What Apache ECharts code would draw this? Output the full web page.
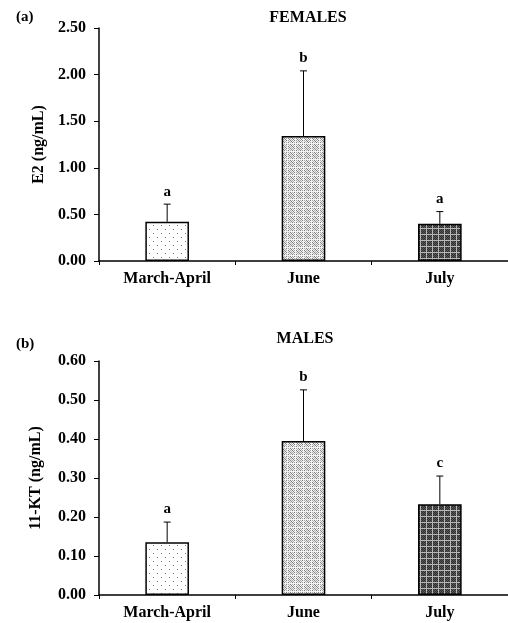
<!DOCTYPE html>
<html>
<head>
<meta charset="utf-8">
<script src="https://cdn.jsdelivr.net/npm/echarts@6/dist/echarts.min.js"></script>
<style>html,body{margin:0;padding:0;background:#fff}#c{width:508px;height:623px}</style>
</head>
<body>
<div id="c"></div>
<script>
// ---- data ----
const categories = ['March-April', 'June', 'July'];
const femaleMean = [0.42, 1.34, 0.40];
const femaleErrTop = [0.61, 2.04, 0.53];
const femaleLetters = ['a', 'b', 'a'];
const maleMean = [0.135, 0.395, 0.233];
const maleErrTop = [0.187, 0.526, 0.305];
const maleLetters = ['a', 'b', 'c'];
const femaleTicks = { min: 0, max: 2.5, interval: 0.5 };
const maleTicks = { min: 0, max: 0.6, interval: 0.1 };

// ---- patterns ----
function makePattern(kind) {
  const c = document.createElement('canvas');
  const ctx = c.getContext('2d');
  if (kind === 0) {
    c.width = 8; c.height = 8;
    ctx.fillStyle = '#fff'; ctx.fillRect(0, 0, 8, 8);
    ctx.fillStyle = '#7a7a7a';
    ctx.fillRect(1, 1, 1, 1); ctx.fillRect(5, 5, 1, 1);
  } else if (kind === 1) {
    c.width = 8; c.height = 8;
    ctx.fillStyle = '#f2f2f2'; ctx.fillRect(0, 0, 8, 8);
    for (let y = 0; y < 8; y++) for (let x = 0; x < 8; x++) {
      if ((x + y) % 2 === 0 && x !== 7 && y !== 7) {
        ctx.fillStyle = ((x >> 1) + (y >> 1)) % 2 ? '#7e7e7e' : '#acacac';
        ctx.fillRect(x, y, 1, 1);
      }
    }
  } else {
    c.width = 6; c.height = 6;
    ctx.fillStyle = '#5a5a5a'; ctx.fillRect(0, 0, 6, 6);
    for (let y = 0; y < 6; y++) for (let x = 0; x < 6; x++) {
      if ((x + y) % 2 === 0) { ctx.fillStyle = '#2e2e2e'; ctx.fillRect(x, y, 1, 1); }
    }
    ctx.fillStyle = '#b8b8b8';
    ctx.fillRect(0, 0, 6, 1); ctx.fillRect(0, 0, 1, 6);
  }
  return { image: c, repeat: 'repeat' };
}
const patterns = [makePattern(0), makePattern(1), makePattern(2)];

const FONT = '"Liberation Serif", "Times New Roman", serif';
const chart = echarts.init(document.getElementById('c'), null, { renderer: 'canvas' });

function xAxis(gi) {
  return {
    type: 'category', gridIndex: gi, data: categories,
    axisLine: { lineStyle: { color: '#000', width: 1.5 } },
    axisTick: { show: true, length: 4, lineStyle: { color: '#000', width: 1 } },
    axisLabel: { color: '#000', fontFamily: FONT, fontWeight: 'bold', fontSize: 16, margin: 10 },
    splitLine: { show: false }
  };
}
function yAxis(gi, t, name, gap) {
  return {
    type: 'value', gridIndex: gi, min: t.min, max: t.max, interval: t.interval,
    name: name, nameLocation: 'middle', nameRotate: 90, nameGap: gap,
    nameTextStyle: { color: '#000', fontFamily: FONT, fontWeight: 'bold', fontSize: 16 },
    axisLine: { show: true, lineStyle: { color: '#000', width: 1.5 } },
    axisTick: { show: true, inside: false, length: 5, lineStyle: { color: '#000', width: 1 } },
    axisLabel: { color: '#000', fontFamily: FONT, fontWeight: 'bold', fontSize: 16, margin: 13,
      formatter: v => v.toFixed(2) },
    splitLine: { show: false }
  };
}
function bars(gi, means) {
  return {
    type: 'bar', xAxisIndex: gi, yAxisIndex: gi, barWidth: '32%',
    data: means.map((v, i) => ({ value: v, itemStyle: { color: patterns[i] } })),
    itemStyle: { borderColor: '#000', borderWidth: 1.5 },
    silent: true, animation: false
  };
}
function errs(gi, means, tops, letters) {
  return {
    type: 'custom', xAxisIndex: gi, yAxisIndex: gi, silent: true, animation: false, z: 5,
    data: means.map((m, i) => [i, m, tops[i]]),
    renderItem: function (params, api) {
      const i = api.value(0);
      const p0 = api.coord([i, api.value(1)]);
      const p1 = api.coord([i, api.value(2)]);
      return {
        type: 'group',
        children: [
          { type: 'line', shape: { x1: p0[0], y1: p0[1], x2: p1[0], y2: p1[1] }, style: { stroke: '#000', lineWidth: 1 } },
          { type: 'line', shape: { x1: p1[0] - 3.5, y1: p1[1], x2: p1[0] + 3.5, y2: p1[1] }, style: { stroke: '#000', lineWidth: 1 } },
          { type: 'text', x: p1[0], y: p1[1] - 5, style: { text: letters[i], fill: '#000', font: 'bold 15px ' + FONT, textAlign: 'center', textVerticalAlign: 'bottom' } }
        ]
      };
    }
  };
}

chart.setOption({
  animation: false,
  backgroundColor: '#fff',
  grid: [
    { left: 99, top: 28, width: 414, height: 233 },
    { left: 99, top: 361, width: 414, height: 234 }
  ],
  xAxis: [xAxis(0), xAxis(1)],
  yAxis: [yAxis(0, femaleTicks, 'E2 (ng/mL)', 48), yAxis(1, maleTicks, '11-KT (ng/mL)', 55)],
  series: [
    bars(0, femaleMean), errs(0, femaleMean, femaleErrTop, femaleLetters),
    bars(1, maleMean), errs(1, maleMean, maleErrTop, maleLetters)
  ],
  graphic: [
    { type: 'text', x: 16, y: 17, style: { text: '(a)', fill: '#000', font: 'bold 15px ' + FONT, textVerticalAlign: 'middle' } },
    { type: 'text', x: 308, y: 18, style: { text: 'FEMALES', fill: '#000', font: 'bold 16px ' + FONT, textAlign: 'center', textVerticalAlign: 'middle' } },
    { type: 'text', x: 16, y: 344, style: { text: '(b)', fill: '#000', font: 'bold 15px ' + FONT, textVerticalAlign: 'middle' } },
    { type: 'text', x: 305, y: 339, style: { text: 'MALES', fill: '#000', font: 'bold 16px ' + FONT, textAlign: 'center', textVerticalAlign: 'middle' } }
  ]
});
</script>
</body>
</html>
